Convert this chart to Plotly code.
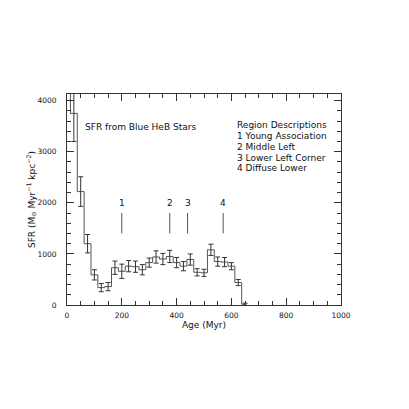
import plotly.graph_objects as go

# bin centres (Myr), SFR and errors
age = [0, 25, 50, 75, 100, 125, 150, 175, 200, 225, 250, 275, 300, 325,
       350, 375, 400, 425, 450, 475, 500, 525, 550, 575, 600, 625, 650]
sfr = [4500, 3750, 2220, 1200, 590, 340, 360, 730, 660, 760, 750, 690, 830, 940,
       900, 950, 830, 760, 890, 640, 630, 1080, 850, 840, 760, 440, 15]
sfr_err = [0, 550, 290, 180, 100, 80, 80, 130, 140, 110, 110, 100, 90, 120,
           110, 120, 100, 90, 110, 70, 70, 110, 90, 90, 70, 60, 20]

region_ids = ['1', '2', '3', '4']
region_ages = [200, 375, 440, 570]
region_names = ['Region Descriptions', '1 Young Association', '2 Middle Left',
                '3 Lower Left Corner', '4 Diffuse Lower']

FONT = 'DejaVu Sans'
INK = '#333333'
TXT = '#111111'

fig = go.Figure()

# stepped histogram
fig.add_trace(go.Scatter(
    x=age, y=sfr, mode='lines', line_shape='hvh',
    line=dict(color='#555555', width=1), hoverinfo='skip'))

# error bars
fig.add_trace(go.Scatter(
    x=age, y=sfr, mode='markers', marker=dict(size=1, color='rgba(0,0,0,0)'),
    error_y=dict(type='data', array=sfr_err, color=INK, thickness=1, width=2.5)))

# region markers
mx, my = [], []
for a in region_ages:
    mx += [a, a, None]
    my += [1400, 1800, None]
fig.add_trace(go.Scatter(x=mx, y=my, mode='lines',
                         line=dict(color='#555555', width=1), hoverinfo='skip'))
for a, rid in zip(region_ages, region_ids):
    fig.add_annotation(x=a, y=1990, text=rid, showarrow=False,
                       font=dict(family=FONT, size=9, color=TXT))

fig.add_annotation(x=60, y=3490, text='SFR from Blue HeB Stars', showarrow=False,
                   xanchor='left', font=dict(family=FONT, size=9, color=TXT))
for i, name in enumerate(region_names):
    fig.add_annotation(x=614, y=3520 - i * 212, text=name, showarrow=False,
                       xanchor='left', font=dict(family=FONT, size=9, color=TXT))

axis_common = dict(showgrid=False, zeroline=False, showline=True, linecolor=INK,
                   linewidth=1, mirror='ticks', ticks='inside', tickcolor=INK,
                   ticklen=7, automargin=False,
                   tickfont=dict(family=FONT, size=7.5, color=TXT))

fig.update_xaxes(range=[0, 1000], dtick=200,
                 minor=dict(dtick=50, ticks='inside', ticklen=4, tickcolor=INK),
                 title=dict(text='Age (Myr)', font=dict(family=FONT, size=9, color=TXT),
                            standoff=2),
                 ticklabelstandoff=3, **axis_common)
fig.update_yaxes(range=[0, 4130], dtick=1000,
                 minor=dict(dtick=200, ticks='inside', ticklen=4, tickcolor=INK),
                 title=dict(text='SFR (M<sub>⊙</sub> Myr<sup>−1</sup> kpc<sup>−2</sup>)',
                            font=dict(family=FONT, size=9, color=TXT), standoff=0),
                 ticklabelstandoff=8, **axis_common)

# page body adds an 8px offset, so margins are shifted to compensate
fig.update_layout(width=409, height=409, autosize=False, showlegend=False,
                  margin=dict(l=59, r=76, t=86, b=112),
                  paper_bgcolor='white', plot_bgcolor='white')

fig.write_html('out.html')
